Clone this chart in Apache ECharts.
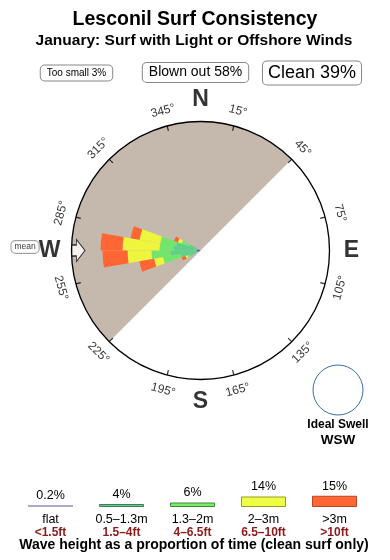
<!DOCTYPE html>
<html><head><meta charset="utf-8">
<script src="https://cdn.jsdelivr.net/npm/echarts@6/dist/echarts.min.js"></script>
<style>html,body{margin:0;padding:0;background:#fff}#c{width:390px;height:560px}</style>
</head><body><div id="c"></div>
<script>
// ---------- data ----------
const spotName = 'Lesconil';
const monthName = 'January';
const tooSmallPct = 3;
const blownOutPct = 58;
const cleanPct = 39;

// rose petals (10° bins, centred on these compass directions); radial units: circle = 100
const roseDirections = [245, 255, 265, 275, 285, 295];
const roseFlat = [2.3, 2.3, 3.1, 3.1, 2.3, 1.6];
const rose05 = [6.2, 13.2, 20.2, 17.8, 17.0, 7.8];
const rose13 = [2.3, 14.0, 14.7, 10.9, 12.4, 6.2];
const rose2 = [1.6, 7.0, 18.6, 28.7, 16.3, 3.1];
const rose3 = [3.1, 11.6, 19.4, 17.0, 7.0, 3.1];

const classNames = ['flat', '0.5–1.3m', '1.3–2m', '2–3m', '>3m'];
const classFeet = ['<1.5ft', '1.5–4ft', '4–6.5ft', '6.5–10ft', '>10ft'];
const classPct = [0.2, 4, 6, 14, 15];

const degreeTicks = [15, 45, 75, 105, 135, 165, 195, 225, 255, 285, 315, 345];
const compassLetters = ['N', 'E', 'S', 'W'];
const compassAngles = [0, 90, 180, 270];
const offshoreFrom = 225;
const offshoreTo = 45;
const meanDirection = 270;
const idealSwell = 'WSW';

// ---------- styles ----------
const FONT = '"Liberation Sans", Arial, sans-serif';
const roseColors = ['#3344dd', '#5fcf8c', '#72e66a', '#eef53c', '#ff6633'];
const legendFill = ['#aaaacc', '#66cc88', '#77ee66', '#eeff44', '#ff6633'];
const legendBorder = ['#aaaacc', '#3d7d5a', '#3f8a3a', '#999922', '#bb4422'];
const CX = 200.5, CY = 250.5, R = 129;

const binLabels = [];
for (let i = 0; i < 36; i++) binLabels.push(String(i * 10 + 5));
function full(arr) {
  const out = new Array(36).fill(0);
  roseDirections.forEach((d, i) => { out[Math.floor(d / 10)] = arr[i]; });
  return out;
}
const roseSets = [roseFlat, rose05, rose13, rose2, rose3];
function labelRot(d) {
  return (d > 90 && d < 270) ? 180 - d : -d;
}

const chart = echarts.init(document.getElementById('c'));
const offSpan = (offshoreTo - offshoreFrom + 360) % 360;

const series = [];
series.push({
  type: 'pie', center: [CX, CY], radius: [0, R], z: 0, silent: true,
  startAngle: (90 - offshoreFrom + 360) % 360, clockwise: true,
  label: { show: false }, labelLine: { show: false }, emphasis: { disabled: true },
  data: [
    { value: offSpan, itemStyle: { color: '#c5b9ad' } },
    { value: 360 - offSpan, itemStyle: { color: 'rgba(0,0,0,0)' } }
  ]
});
roseSets.forEach((arr, k) => {
  series.push({
    type: 'bar', coordinateSystem: 'polar', polarIndex: 0, stack: 'rose', z: 2,
    silent: true, barCategoryGap: '0%', name: classNames[k],
    itemStyle: { color: roseColors[k] }, data: full(arr)
  });
});
// ticks
series.push({
  type: 'scatter', coordinateSystem: 'polar', polarIndex: 1, silent: true, z: 4,
  symbol: 'rect', symbolSize: [1.2, 5], itemStyle: { color: '#000' },
  data: degreeTicks.map(d => ({ value: [98, d], symbolRotate: -d }))
});
// degree labels
series.push({
  type: 'scatter', coordinateSystem: 'polar', polarIndex: 1, silent: true, z: 4,
  symbolSize: 0,
  label: { show: true, position: 'inside', formatter: '{b}', fontSize: 12, color: '#000', fontFamily: FONT },
  data: degreeTicks.map(d => ({ name: d + '°', value: [112, d], label: { rotate: labelRot(d) } }))
});
// compass letters
series.push({
  type: 'scatter', coordinateSystem: 'polar', polarIndex: 1, silent: true, z: 4,
  symbolSize: 0,
  label: { show: true, position: 'inside', formatter: '{b}', fontSize: 23, fontWeight: 'bold', color: '#000', fontFamily: FONT },
  data: compassLetters.map((t, i) => ({ name: t, value: [117, compassAngles[i]] }))
});
// mean direction arrow
series.push({
  type: 'scatter', coordinateSystem: 'polar', polarIndex: 1, silent: true, z: 5,
  symbol: 'path://M11,0 L22,8.5 L16.5,8.5 L16.5,13 L5.5,13 L5.5,8.5 L0,8.5 Z',
  symbolSize: [22, 13], symbolKeepAspect: false,
  itemStyle: { color: '#fff', borderColor: '#000', borderWidth: 1 },
  data: [{ value: [94.6, meanDirection], symbolRotate: -(meanDirection + 180) }]
});
series.push({
  type: 'scatter', coordinateSystem: 'polar', polarIndex: 1, silent: true, z: 5,
  symbolSize: 0,
  label: { show: true, position: 'inside', formatter: 'mean', fontSize: 8.5, color: '#000', fontFamily: FONT,
    backgroundColor: '#fff', borderColor: '#888', borderWidth: 1, borderRadius: 4, padding: [2, 3, 1, 3], offset: [0, -3.5] },
  data: [{ value: [136, meanDirection] }]
});
// legend bars
series.push({
  type: 'bar', xAxisIndex: 0, yAxisIndex: 0, barWidth: 45, barMinHeight: 2, silent: true,
  label: { show: true, position: 'top', formatter: '{c}%', fontSize: 12.5, color: '#000', distance: 3, fontFamily: FONT },
  data: classPct.map((v, i) => ({ value: v, itemStyle: { color: legendFill[i], borderColor: legendBorder[i], borderWidth: i === 0 ? 0 : 1 } }))
});

const option = {
  animation: false,
  textStyle: { fontFamily: FONT },
  polar: [
    { center: [CX, CY], radius: R },
    { center: [CX, CY], radius: R * 1.5 }
  ],
  angleAxis: [
    { polarIndex: 0, type: 'category', data: binLabels, startAngle: 90, clockwise: true, boundaryGap: true,
      axisLine: { show: true, lineStyle: { color: '#000', width: 1.3 } }, axisTick: { show: false },
      axisLabel: { show: false }, splitLine: { show: false }, z: 3 },
    { polarIndex: 1, type: 'value', min: 0, max: 360, startAngle: 90, clockwise: true, show: false }
  ],
  radiusAxis: [
    { polarIndex: 0, type: 'value', min: 0, max: 100, show: false },
    { polarIndex: 1, type: 'value', min: 0, max: 150, show: false }
  ],
  grid: { left: 15, width: 355, top: 487, height: 20 },
  xAxis: { type: 'category', data: classNames, axisLine: { show: false }, axisTick: { show: false },
    axisLabel: { interval: 0, margin: 6,
      formatter: (v, i) => '{m|' + v + '}\n{f|' + classFeet[i] + '}',
      rich: { m: { fontSize: 12.5, color: '#000', lineHeight: 13, fontFamily: FONT },
              f: { fontSize: 12, fontWeight: 'bold', color: '#8b1a1a', lineHeight: 13, fontFamily: FONT } } } },
  yAxis: { type: 'value', min: 0, max: 26.67, show: false },
  graphic: [
    { type: 'text', x: 195, y: 20, style: { text: spotName + ' Surf Consistency', font: 'bold 19.5px ' + FONT, fill: '#000', textAlign: 'center', textVerticalAlign: 'middle' } },
    { type: 'text', x: 194, y: 41, style: { text: monthName + ': Surf with Light or Offshore Winds', font: 'bold 15.5px ' + FONT, fill: '#000', textAlign: 'center', textVerticalAlign: 'middle' } },
    { type: 'text', x: 76.5, y: 73, style: { text: 'Too small ' + tooSmallPct + '%', font: '10px ' + FONT, fill: '#000', textAlign: 'center', textVerticalAlign: 'middle',
        backgroundColor: '#fff', borderColor: '#888', borderWidth: 1, borderRadius: 4, padding: [3, 6, 2, 6] } },
    { type: 'text', x: 195.5, y: 72.5, style: { text: 'Blown out ' + blownOutPct + '%', font: '14px ' + FONT, fill: '#000', textAlign: 'center', textVerticalAlign: 'middle',
        backgroundColor: '#fff', borderColor: '#888', borderWidth: 1, borderRadius: 4, padding: [3, 6, 2, 6] } },
    { type: 'text', x: 312, y: 73, style: { text: 'Clean ' + cleanPct + '%', font: '18px ' + FONT, fill: '#000', textAlign: 'center', textVerticalAlign: 'middle',
        backgroundColor: '#fff', borderColor: '#888', borderWidth: 1, borderRadius: 4, padding: [3, 5, 2, 5] } },
    { type: 'circle', shape: { cx: 338, cy: 390, r: 25 }, style: { fill: '#fff', stroke: '#3a6ea5', lineWidth: 1 } },
    { type: 'text', x: 338, y: 425, style: { text: 'Ideal Swell', font: 'bold 12px ' + FONT, fill: '#000', textAlign: 'center', textVerticalAlign: 'middle' } },
    { type: 'text', x: 338, y: 440, style: { text: idealSwell, font: 'bold 13.5px ' + FONT, fill: '#000', textAlign: 'center', textVerticalAlign: 'middle' } },
    { type: 'text', x: 194, y: 545, style: { text: 'Wave height as a proportion of time (clean surf only)', font: 'bold 14px ' + FONT, fill: '#000', textAlign: 'center', textVerticalAlign: 'middle' } }
  ],
  series: series
};
chart.setOption(option);
</script>
</body></html>
